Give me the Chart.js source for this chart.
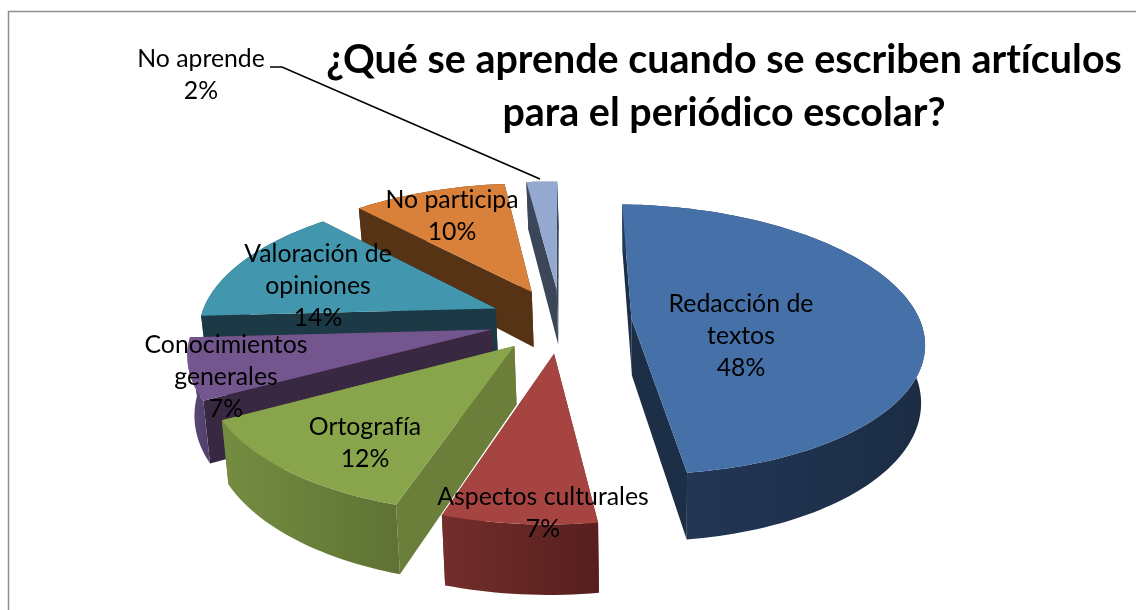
<!DOCTYPE html>
<html lang="es">
<head>
<meta charset="utf-8">
<title>¿Qué se aprende cuando se escriben artículos para el periódico escolar?</title>
<script src="https://cdn.jsdelivr.net/npm/chart.js@4"></script>
<style>
html,body{margin:0;padding:0;background:#fff;overflow:hidden}
#wrap{position:relative;width:1136px;height:610px}
</style>
</head>
<body>
<div id="wrap"><canvas id="c" width="1136" height="610"></canvas></div>
<script>
// ---- data ----
const titleLines = ['¿Qué se aprende cuando se escriben artículos', 'para el periódico escolar?'];
const categories = [
  ['Redacción de', 'textos'],
  ['Aspectos culturales'],
  ['Ortografía'],
  ['Conocimientos', 'generales'],
  ['Valoración de', 'opiniones'],
  ['No participa'],
  ['No aprende']
];
const percentages = [48, 7, 12, 7, 14, 10, 2];

// ---- styles ----
const topColors  = ['#4571a8', '#a64442', '#88a54b', '#73568d', '#4297ae', '#d9803a', '#93a9cf'];
const wallColors = ['#1c2f47', '#6b2a28', '#6b7f3b', '#392842', '#1b3a45', '#573316', '#3c4659'];
const rimLeft    = ['#24395a', '#732e2b', '#748d41', '#5f4a7a', '#1b3a45', '#573316', '#3c4659'];
const rimRight   = ['#1b2c44', '#561f1e', '#5f7334', '#54426e', '#1b3a45', '#573316', '#3c4659'];
const labelCentres = [[741, 304], [543, 497], [365, 427], [226, 345], [318, 254], [452, 200], [201, 59]];
const paintOrder = [6, 5, 4, 3, 2, 1, 0];

// projection of the flat pie on to the tilted 3D view
const view = {px: 561, py: 320.5, vx: 660, rx: 292, ky: 132.7, persp: 0.154, depth: 57, roll: 8, baseShrink: 0.985};
function project(u, v, down) {
  const s = 1 / (1 - view.persp * v);
  const x = view.vx + (view.px - view.vx + u * view.rx) * s;
  const y = view.py + (v * view.ky + (down ? view.depth : 0)) * s + view.roll * u;
  return [down ? view.vx + (x - view.vx) * view.baseShrink : x, y];
}

function sliceOutline(el) {
  const d = el.options.offset / el.outerRadius;
  const a0 = el.startAngle + Math.PI / 2, a1 = el.endAngle + Math.PI / 2, mid = (a0 + a1) / 2;
  const ou = d * Math.sin(mid), ov = -d * Math.cos(mid);
  const n = Math.max(8, Math.ceil((a1 - a0) * 40));
  const rim = [];
  for (let i = 0; i <= n; i++) {
    const a = a0 + (a1 - a0) * i / n;
    rim.push([ou + Math.sin(a), ov - Math.cos(a)]);
  }
  return {apex: [ou, ov], rim};
}

function poly(ctx, pts, fill) {
  ctx.beginPath();
  pts.forEach((p, i) => i ? ctx.lineTo(p[0], p[1]) : ctx.moveTo(p[0], p[1]));
  ctx.closePath();
  ctx.fillStyle = fill;
  ctx.fill();
}

const pie3d = {
  id: 'pie3d',
  beforeDatasetsDraw(chart) {
    const ctx = chart.ctx, arcs = chart.getDatasetMeta(0).data;
    ctx.save();
    // frame
    ctx.strokeStyle = '#8f8f8f';
    ctx.lineWidth = 1.5;
    ctx.strokeRect(8.5, 11.5, 1140, 620);

    paintOrder.forEach(i => {
      const {apex, rim} = sliceOutline(arcs[i]);
      const P = (q, down) => project(q[0], q[1], down);
      const first = rim[0], last = rim[rim.length - 1];
      // radial walls
      poly(ctx, [P(apex), P(first), P(first, true), P(apex, true)], wallColors[i]);
      poly(ctx, [P(apex), P(last), P(last, true), P(apex, true)], wallColors[i]);
      // rim wall
      const topRim = rim.map(q => P(q)), botRim = rim.map(q => P(q, true));
      const xs = topRim.map(p => p[0]);
      const g = ctx.createLinearGradient(Math.min(...xs), 0, Math.max(...xs), 0);
      g.addColorStop(0, rimLeft[i]);
      g.addColorStop(1, rimRight[i]);
      poly(ctx, topRim.concat(botRim.reverse()), g);
      // top face
      poly(ctx, [P(apex)].concat(topRim), topColors[i]);
    });

    // leader line for the smallest slice
    ctx.strokeStyle = '#000';
    ctx.lineWidth = 1.7;
    ctx.beginPath();
    ctx.moveTo(270, 67);
    ctx.lineTo(282, 67);
    ctx.lineTo(540, 179);
    ctx.stroke();

    // data labels
    ctx.fillStyle = '#000';
    ctx.textAlign = 'center';
    ctx.textBaseline = 'middle';
    ctx.letterSpacing = '0.01px';
    ctx.font = '24.8px Lato';
    categories.forEach((lines, i) => {
      const all = lines.concat(percentages[i] + '%');
      all.forEach((t, k) => ctx.fillText(t, labelCentres[i][0], labelCentres[i][1] + k * 32));
    });

    // title
    ctx.font = 'bold 39.4px Lato';
    titleLines.forEach((t, k) => ctx.fillText(t, 724, 60 + k * 53));
    ctx.restore();
    return false;
  }
};

new Chart(document.getElementById('c'), {
  type: 'pie',
  data: {
    labels: categories,
    datasets: [{data: percentages, backgroundColor: topColors, offset: 66, borderWidth: 0}]
  },
  options: {
    responsive: false,
    animation: false,
    rotation: -3,
    plugins: {legend: {display: false}, tooltip: {enabled: false}, title: {display: false}}
  },
  plugins: [pie3d]
});
</script>
</body>
</html>
